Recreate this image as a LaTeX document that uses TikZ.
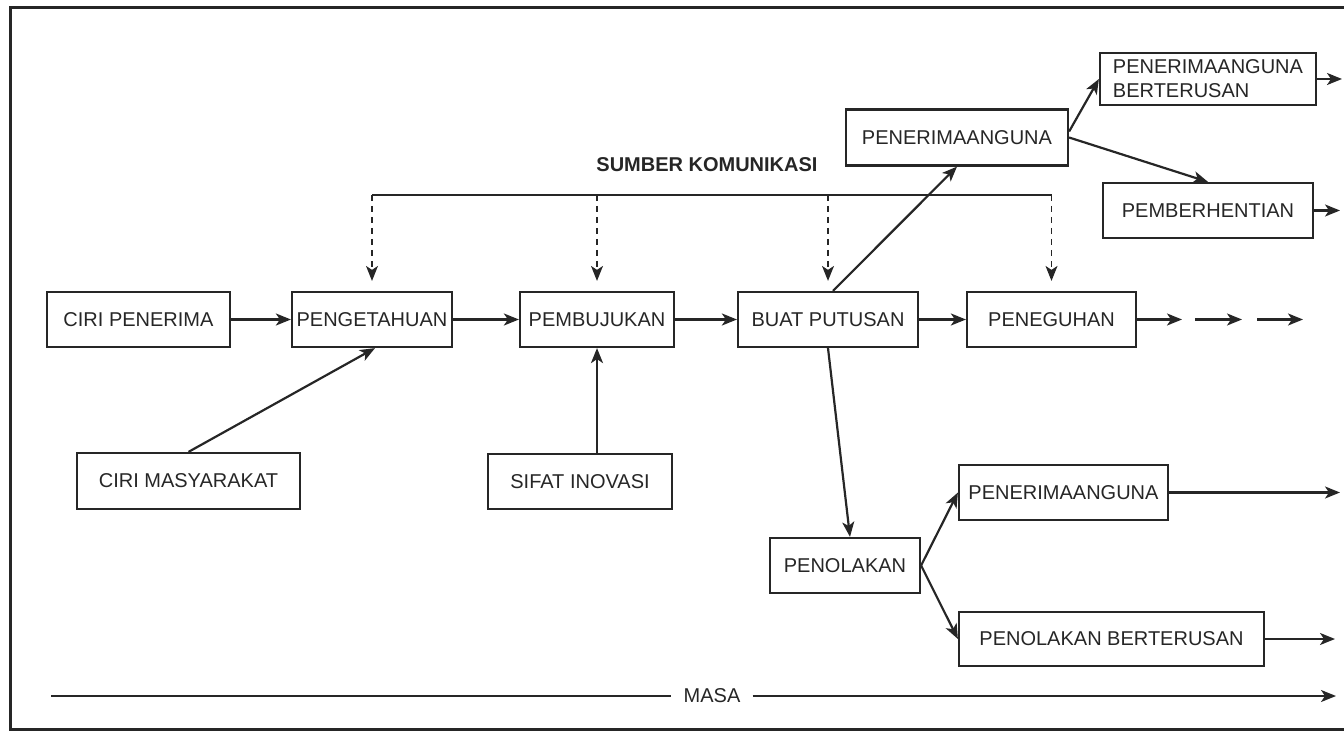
\documentclass[tikz,border=0pt]{standalone}
\usepackage{fontspec}
\setmainfont{Liberation Sans}
\usetikzlibrary{arrows.meta}
\tikzset{
  kotak/.style={draw, line width=1.1pt, inner sep=0pt, minimum height=27.5pt},
  panah/.style={-{Stealth[length=7.5pt,width=6pt,inset=2pt]}, line width=1.1pt},
  sambung/.style={panah, dash pattern=on 3pt off 2.5pt, line width=0.7pt}
}
\begin{document}
\begin{tikzpicture}[x=0.5pt,y=-0.5pt,color=black!85,font=\fontsize{10}{12}\selectfont]
\useasboundingbox (0,0) rectangle (1344,732);
\draw[line width=1.5pt] (1344,8) -- (10,8) -- (10,729) -- (1344,729);
% baris utama
\node[kotak, minimum width=91.5pt] (ciri) at (138.5,319.5) {CIRI PENERIMA};
\node[kotak, minimum width=80pt] (tahu) at (372,319.5) {PENGETAHUAN};
\node[kotak, minimum width=77pt] (bujuk) at (597,319.5) {PEMBUJUKAN};
\node[kotak, minimum width=90pt] (putus) at (828,319.5) {BUAT PUTUSAN};
\node[kotak, minimum width=84.5pt] (teguh) at (1051.5,319.5) {PENEGUHAN};
\node[kotak, minimum width=111.5pt, minimum height=28pt] (masy) at (188.5,481) {CIRI MASYARAKAT};
\node[kotak, minimum width=92pt] (sifat) at (580,481.5) {SIFAT INOVASI};
% cabang atas
\node[kotak, minimum width=111pt, minimum height=28pt] (guna) at (957,137.5) {PENERIMAANGUNA};
\node[kotak, minimum width=108pt, minimum height=26pt, align=left] (terus) at (1208,79) {PENERIMAANGUNA\\BERTERUSAN};
\node[kotak, minimum width=105pt] (henti) at (1208,210.5) {PEMBERHENTIAN};
% cabang bawah
\node[kotak, minimum width=75pt] (tolak) at (845,565.5) {PENOLAKAN};
\node[kotak, minimum width=104.5pt] (guna2) at (1063.5,492.5) {PENERIMAANGUNA};
\node[kotak, minimum width=152.5pt, minimum height=27pt] (tolak2) at (1111.5,639) {PENOLAKAN BERTERUSAN};
% sumber komunikasi
\node[font=\fontsize{10}{12}\selectfont\bfseries] (sumber) at (707,165) {SUMBER KOMUNIKASI};
\coordinate (s1) at (372,195);
\coordinate (s2) at (1051.5,195);
\draw[line width=1.1pt] (s1) -- (s2);
\foreach \k in {tahu,bujuk,putus,teguh}
  \draw[sambung] (\k.north |- s1) -- ([yshift=5pt]\k.north);
% anak panah
\draw[panah] (ciri) -- (tahu);
\draw[panah] (tahu) -- (bujuk);
\draw[panah] (bujuk) -- (putus);
\draw[panah] (putus) -- (teguh);
\draw[panah] (masy.north) -- ([xshift=1.5pt]tahu.south);
\draw[panah] (bujuk.south |- sifat.north) -- (bujuk.south);
\draw[panah] ([xshift=2.5pt]putus.north) -- (guna.south);
\draw[panah] (putus.south) -- ([xshift=2.5pt]tolak.north);
\draw[panah] ([yshift=3pt]guna.east) -- (terus.west);
\draw[panah] (guna.east) -- (henti.north);
\draw[panah] (tolak.east) -- (guna2.west);
\draw[panah] (tolak.east) -- (tolak2.west);
% keluar
\coordinate (t1) at (1182,319.5);
\coordinate (t2a) at (1195,319.5);
\coordinate (t2b) at (1242,319.5);
\coordinate (t3a) at (1257,319.5);
\coordinate (t3b) at (1303,319.5);
\draw[panah] (teguh) -- (t1);
\draw[panah] (t2a) -- (t2b);
\draw[panah] (t3a) -- (t3b);
\coordinate (o1) at (1342,79);
\coordinate (o2) at (1340,210.5);
\coordinate (o3) at (1340,492.5);
\coordinate (o4) at (1335,639);
\draw[panah] (terus) -- (o1);
\draw[panah] (henti) -- (o2);
\draw[panah] (guna2) -- (o3);
\draw[panah] (tolak2) -- (o4);
% masa
\node[inner sep=6pt] (masa) at (712,696) {MASA};
\coordinate (m0) at (51,696);
\coordinate (m1) at (1336,696);
\draw[line width=1.1pt] (m0) -- (masa);
\draw[panah] (masa) -- (m1);
\end{tikzpicture}
\end{document}
